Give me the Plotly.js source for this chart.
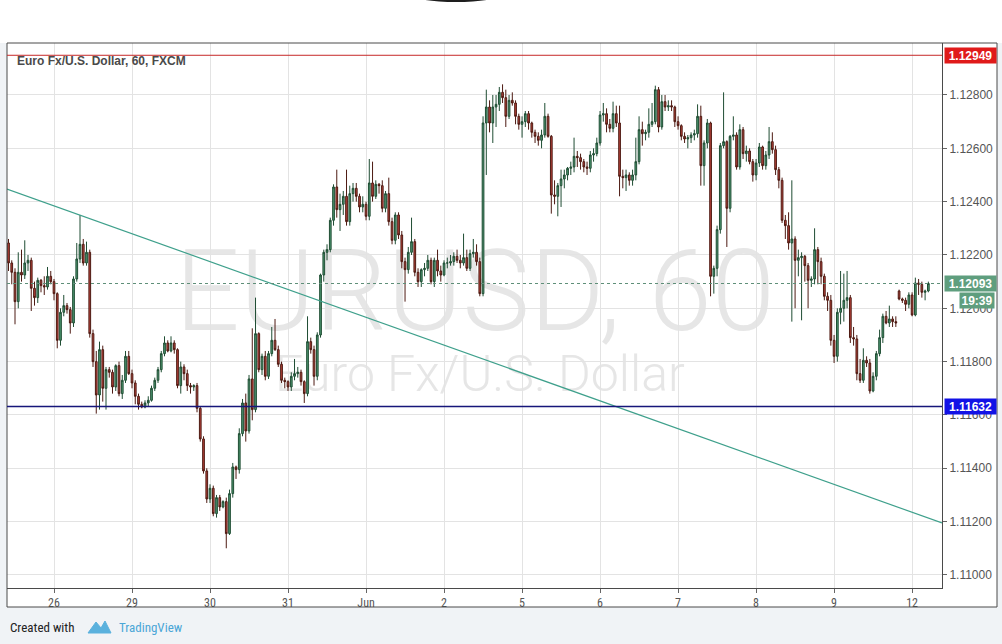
<!DOCTYPE html>
<html><head><meta charset="utf-8">
<script src="https://cdn.plot.ly/plotly-3.0.1.min.js"></script>
<style>html,body{margin:0;padding:0;background:#fff;overflow:hidden}#chart{width:1002px;height:644px}</style>
</head><body><div id="chart"></div>
<script>
// ---- data (EUR/USD, 60 min, FXCM) ----
const dayTicks = [14, 38, 62, 86, 110, 134, 158, 182, 206, 230, 254, 278];
const dayLabels = ['26', '29', '30', '31', 'Jun', '2', '5', '6', '7', '8', '9', '12'];
const priceTicks = [1.110, 1.112, 1.114, 1.116, 1.118, 1.120, 1.122, 1.124, 1.126, 1.128];

const openP = [
1.12245,1.1217,1.12135,1.12025,1.12135,1.12125,1.1217,1.1218,1.12075,1.1204,
1.12105,1.12085,1.1208,1.1212,1.121,1.12055,1.1188,1.11985,1.1201,1.11995,
1.11945,1.1211,1.12185,1.1224,1.1217,1.1221,1.11905,1.118,1.11675,1.11845,
1.117,1.1177,1.1176,1.11705,1.11785,1.1168,1.1173,1.1182,1.11755,1.1172,
1.1167,1.1164,1.1163,1.11645,1.11655,1.117,1.1173,1.1177,1.1183,1.1187,
1.1184,1.1187,1.11845,1.1171,1.1178,1.11755,1.1171,1.11705,1.1171,1.11625,
1.1151,1.1139,1.11285,1.11325,1.1123,1.1129,1.11255,1.11275,1.11155,1.11305,
1.11405,1.11395,1.1153,1.11645,1.1154,1.11735,1.1162,1.11905,1.1177,1.1182,
1.11745,1.1183,1.1188,1.11845,1.1179,1.1173,1.11725,1.11705,1.11745,1.11755,
1.1176,1.11725,1.1168,1.11875,1.11845,1.11745,1.119,1.12125,1.1221,1.1222,
1.1233,1.12455,1.1237,1.1239,1.1242,1.12325,1.1243,1.1245,1.1242,1.1238,
1.1239,1.12345,1.1247,1.1242,1.12465,1.1246,1.12375,1.1243,1.12325,1.12255,
1.1235,1.12275,1.12175,1.12145,1.1221,1.1225,1.12135,1.121,1.12145,1.1215,
1.1218,1.121,1.1218,1.1214,1.12125,1.1217,1.1217,1.12175,1.12195,1.1218,
1.1217,1.1219,1.1215,1.12205,1.1221,1.12175,1.12055,1.12695,1.12755,1.12695,
1.12755,1.12765,1.1281,1.1279,1.1272,1.1278,1.1277,1.1272,1.1269,1.127,
1.1273,1.12695,1.1266,1.12645,1.1263,1.1265,1.1272,1.12645,1.12425,1.1242,
1.1246,1.12485,1.125,1.12525,1.1253,1.1257,1.12565,1.1255,1.1253,1.12525,
1.12575,1.1258,1.1262,1.12725,1.1273,1.1269,1.12675,1.1273,1.12695,1.12495,
1.1249,1.125,1.1248,1.125,1.1255,1.1267,1.12655,1.1266,1.1269,1.127,
1.1282,1.1268,1.12775,1.12755,1.1276,1.12755,1.127,1.12685,1.12645,1.12635,
1.1264,1.1265,1.12655,1.1272,1.12535,1.1262,1.12695,1.1212,1.1215,1.12295,
1.1261,1.12625,1.12375,1.12645,1.1265,1.1253,1.1267,1.1258,1.1259,1.1255,
1.125,1.12545,1.12605,1.12535,1.12575,1.12625,1.12595,1.1252,1.1248,1.1233,
1.1231,1.12245,1.1226,1.1218,1.1219,1.12195,1.1216,1.12105,1.1211,1.1222,
1.12175,1.1212,1.12045,1.1203,1.1188,1.1182,1.11985,1.12,1.1203,1.1204,
1.1189,1.11885,1.11755,1.1173,1.11805,1.11795,1.1169,1.11745,1.1183,1.1189,
1.1197,1.11945,1.1196,1.1195,1.12065,1.12035,1.1203,1.12015,1.1205,1.11975,
1.12095,1.1209,1.1206,1.12065];

const highP = [
1.1226,1.1218,1.1215,1.1221,1.1222,1.12255,1.122,1.1219,1.121,1.12115,
1.1211,1.1212,1.12155,1.1214,1.1211,1.1206,1.12,1.1205,1.1202,1.12005,
1.1212,1.12245,1.1235,1.1226,1.1225,1.1222,1.1192,1.1184,1.11875,1.1186,
1.1178,1.1178,1.1177,1.1179,1.118,1.1175,1.1184,1.1184,1.1177,1.1173,
1.1168,1.1165,1.11655,1.1167,1.1171,1.1174,1.1178,1.1184,1.11895,1.1188,
1.11895,1.1188,1.1185,1.118,1.1179,1.1177,1.1172,1.11715,1.1172,1.1163,
1.1152,1.114,1.1134,1.11335,1.113,1.113,1.1128,1.1129,1.1132,1.1142,
1.1141,1.1155,1.1166,1.1168,1.1175,1.11925,1.1204,1.1191,1.1183,1.1184,
1.1184,1.1193,1.1196,1.1186,1.118,1.1174,1.1173,1.1176,1.1181,1.1178,
1.1177,1.1173,1.1197,1.1189,1.1186,1.1191,1.1213,1.1222,1.1224,1.1234,
1.12465,1.1252,1.1243,1.1244,1.1252,1.1246,1.1247,1.1247,1.1243,1.1242,
1.124,1.1256,1.1255,1.1248,1.1247,1.1248,1.1244,1.1249,1.1234,1.1236,
1.1236,1.1229,1.1219,1.1223,1.1234,1.1226,1.1215,1.1215,1.1217,1.122,
1.1219,1.1219,1.1222,1.1216,1.1218,1.1219,1.122,1.1221,1.1222,1.122,
1.1228,1.1222,1.1222,1.1226,1.1224,1.1219,1.1272,1.1282,1.1278,1.128,
1.128,1.1283,1.1284,1.1282,1.128,1.1281,1.1278,1.1273,1.1272,1.1274,
1.1274,1.127,1.1267,1.1266,1.1267,1.1277,1.1273,1.1265,1.1248,1.1247,
1.1252,1.1252,1.1253,1.1255,1.1264,1.1259,1.1258,1.1256,1.1255,1.1259,
1.126,1.1264,1.1274,1.1277,1.1275,1.1271,1.12775,1.1276,1.1276,1.1252,
1.1252,1.1251,1.1252,1.1264,1.1272,1.127,1.1267,1.1275,1.1277,1.12835,
1.1283,1.128,1.128,1.1278,1.1278,1.1276,1.1272,1.1269,1.1266,1.1265,
1.1266,1.1267,1.12765,1.1276,1.1263,1.1271,1.127,1.1216,1.1231,1.1262,
1.1281,1.1263,1.1265,1.1272,1.1266,1.1269,1.1268,1.1261,1.126,1.1256,
1.1256,1.1262,1.1261,1.1259,1.1268,1.1266,1.1261,1.1253,1.1249,1.1235,
1.1236,1.1248,1.1227,1.1222,1.1221,1.122,1.1217,1.1212,1.123,1.1223,
1.1219,1.1213,1.1206,1.1205,1.119,1.12,1.1214,1.1213,1.1214,1.1205,
1.1193,1.119,1.1181,1.1185,1.1182,1.1181,1.1176,1.1184,1.1192,1.1198,
1.1199,1.1201,1.1197,1.1197,1.1207,1.1204,1.1204,1.1206,1.1206,1.12115,
1.1211,1.121,1.1207,1.121];

const lowP = [
1.1214,1.1209,1.1194,1.12,1.121,1.1211,1.1214,1.1199,1.1201,1.1202,
1.1206,1.1205,1.1207,1.1209,1.1203,1.1185,1.1186,1.1197,1.1198,1.11905,
1.1193,1.121,1.1217,1.1216,1.1216,1.1189,1.1178,1.11605,1.1162,1.1165,
1.1162,1.1174,1.1168,1.1169,1.1167,1.1166,1.1172,1.1175,1.117,1.1164,
1.1162,1.11625,1.11625,1.1163,1.1165,1.1169,1.1172,1.1176,1.1182,1.11835,
1.11835,1.1183,1.117,1.1168,1.1173,1.1169,1.1168,1.1169,1.1161,1.115,
1.1138,1.1127,1.1127,1.1122,1.11215,1.1124,1.1125,1.111,1.1115,1.1129,
1.1136,1.1138,1.1152,1.115,1.1153,1.1158,1.1161,1.1176,1.1175,1.1173,
1.11735,1.1182,1.1184,1.1178,1.1172,1.117,1.1169,1.1169,1.1173,1.1174,
1.1171,1.11645,1.1167,1.1183,1.1171,1.1173,1.1189,1.121,1.1218,1.1221,
1.1231,1.1234,1.1229,1.1235,1.1231,1.1231,1.124,1.124,1.1236,1.1236,
1.1233,1.1233,1.124,1.1241,1.1243,1.1236,1.1236,1.1231,1.1224,1.1224,
1.1226,1.1215,1.12025,1.1213,1.122,1.1212,1.1208,1.1208,1.1212,1.1214,
1.1209,1.1208,1.1212,1.121,1.1212,1.1215,1.1216,1.1216,1.1217,1.1215,
1.1216,1.1214,1.1214,1.1219,1.1216,1.12045,1.12045,1.125,1.1266,1.1262,
1.1268,1.1274,1.1277,1.1268,1.1271,1.1276,1.1269,1.1267,1.1264,1.1268,
1.1267,1.1264,1.1262,1.1261,1.126,1.1264,1.1264,1.12355,1.1239,1.12345,
1.1238,1.1245,1.1248,1.125,1.1251,1.1253,1.1252,1.1251,1.125,1.1251,
1.1255,1.1257,1.1261,1.127,1.1266,1.1266,1.1266,1.1268,1.1242,1.1245,
1.1244,1.1246,1.1246,1.1248,1.1254,1.1261,1.1263,1.1264,1.1268,1.1269,
1.1266,1.1267,1.1274,1.1274,1.1274,1.1268,1.1267,1.1263,1.1262,1.126,
1.1262,1.1263,1.1264,1.1246,1.1246,1.126,1.12045,1.12055,1.1212,1.1228,
1.126,1.1223,1.1236,1.1263,1.1252,1.1252,1.1256,1.1255,1.1254,1.12475,
1.1248,1.1253,1.1252,1.1252,1.1256,1.1258,1.125,1.1245,1.1232,1.1226,
1.1222,1.1195,1.12,1.1212,1.11955,1.121,1.12,1.1208,1.1209,1.1209,
1.1209,1.1203,1.1199,1.1186,1.11795,1.118,1.1194,1.1195,1.12,1.1187,
1.1186,1.1173,1.1172,1.1172,1.1178,1.1168,1.11685,1.1173,1.1182,1.1187,
1.1194,1.1193,1.1193,1.1193,1.1203,1.1202,1.1199,1.12,1.1197,1.1197,
1.1205,1.1204,1.1203,1.1206];

const closeP = [
1.1217,1.12135,1.12025,1.12135,1.12125,1.1217,1.1218,1.12075,1.1204,1.12105,
1.12085,1.1208,1.1212,1.121,1.12055,1.1188,1.11985,1.1201,1.11995,1.11945,
1.1211,1.12185,1.1224,1.1217,1.1221,1.11905,1.118,1.11675,1.11845,1.117,
1.1177,1.1176,1.11705,1.11785,1.1168,1.1173,1.1182,1.11755,1.1172,1.1167,
1.1164,1.1163,1.11645,1.11655,1.117,1.1173,1.1177,1.1183,1.1187,1.1184,
1.1187,1.11845,1.1171,1.1178,1.11755,1.1171,1.11705,1.1171,1.11625,1.1151,
1.1139,1.11285,1.11325,1.1123,1.1129,1.11255,1.11275,1.11155,1.11305,1.11405,
1.11395,1.1153,1.11645,1.1154,1.11735,1.1162,1.11905,1.1177,1.1182,1.11745,
1.1183,1.1188,1.11845,1.1179,1.1173,1.11725,1.11705,1.11745,1.11755,1.1176,
1.11725,1.1168,1.11875,1.11845,1.11745,1.119,1.12125,1.1221,1.1222,1.1233,
1.12455,1.1237,1.1239,1.1242,1.12325,1.1243,1.1245,1.1242,1.1238,1.1239,
1.12345,1.1247,1.1242,1.12465,1.1246,1.12375,1.1243,1.12325,1.12255,1.1235,
1.12275,1.12175,1.12145,1.1221,1.1225,1.12135,1.121,1.12145,1.1215,1.1218,
1.121,1.1218,1.1214,1.12125,1.1217,1.1217,1.12175,1.12195,1.1218,1.1217,
1.1219,1.1215,1.12205,1.1221,1.12175,1.12055,1.12695,1.12755,1.12695,1.12755,
1.12765,1.1281,1.1279,1.1272,1.1278,1.1277,1.1272,1.1269,1.127,1.1273,
1.12695,1.1266,1.12645,1.1263,1.1265,1.1272,1.12645,1.12425,1.1242,1.1246,
1.12485,1.125,1.12525,1.1253,1.1257,1.12565,1.1255,1.1253,1.12525,1.12575,
1.1258,1.1262,1.12725,1.1273,1.1269,1.12675,1.1273,1.12695,1.12495,1.1249,
1.125,1.1248,1.125,1.1255,1.1267,1.12655,1.1266,1.1269,1.127,1.1282,
1.1268,1.12775,1.12755,1.1276,1.12755,1.127,1.12685,1.12645,1.12635,1.1264,
1.1265,1.12655,1.1272,1.12535,1.1262,1.12695,1.1212,1.1215,1.12295,1.1261,
1.12625,1.12375,1.12645,1.1265,1.1253,1.1267,1.1258,1.1259,1.1255,1.125,
1.12545,1.12605,1.12535,1.12575,1.12625,1.12595,1.1252,1.1248,1.1233,1.1231,
1.12245,1.1226,1.1218,1.1219,1.12195,1.1216,1.12105,1.1211,1.1222,1.12175,
1.1212,1.12045,1.1203,1.1188,1.1182,1.11985,1.12,1.1203,1.1204,1.1189,
1.11885,1.11755,1.1173,1.11805,1.11795,1.1169,1.11745,1.1183,1.1189,1.1197,
1.11945,1.1196,1.1195,1.11945,1.12035,1.1203,1.12015,1.1205,1.11975,1.12095,
1.1209,1.1206,1.12065,1.12093];

const resistanceLevel = 1.12949;
const supportLevel = 1.11632;
const lastPrice = 1.12093;
const countdownText = '19:39';
const trendBars = [-0.46, 287.2];
const trendPrices = [1.12447, 1.11195];
const symbolTitle = 'Euro Fx/U.S. Dollar, 60, FXCM';
const watermarkMain = 'EURUSD, 60';
const watermarkSub = 'Euro Fx/U.S. Dollar';

// ---- drawing ----
const barIndex = openP.map((_, i) => i);
const fmt = v => v.toFixed(5);
const narrow = "'Liberation Sans Narrow', 'Roboto Condensed', 'DejaVu Sans Condensed', 'Liberation Sans', sans-serif";
const W = 1002, H = 644, ML = 7, MR = 60, MT = 43, MB = 56;
const pw = W - ML - MR, ph = H - MT - MB;
const px = x => (x - ML) / pw;          // pixel -> paper x
const py = y => (H - MB - y) / ph;      // pixel -> paper y

const traces = [
  {
    type: 'candlestick', x: barIndex, open: openP, high: highP, low: lowP, close: closeP,
    increasing: {line: {color: '#1f4d33', width: 1}, fillcolor: '#4f9872'},
    decreasing: {line: {color: '#4d1a12', width: 1}, fillcolor: '#b8423a'},
    whiskerwidth: 0, hoverinfo: 'skip', showlegend: false
  },
  {
    type: 'scatter', mode: 'lines', x: trendBars, y: trendPrices,
    line: {color: '#3fa08c', width: 1.2}, hoverinfo: 'skip', showlegend: false
  }
];

const shapes = [
  // outer page areas
  {type: 'rect', xref: 'paper', yref: 'paper', x0: px(0), x1: px(W), y0: py(H), y1: py(607), fillcolor: '#f0f3f6', line: {width: 0}, layer: 'below'},
  {type: 'rect', xref: 'paper', yref: 'paper', x0: px(0), x1: px(7), y0: py(607), y1: py(43), fillcolor: '#f0f3f6', line: {width: 0}, layer: 'below'},
  {type: 'rect', xref: 'paper', yref: 'paper', x0: px(997), x1: px(W), y0: py(607), y1: py(43), fillcolor: '#f0f3f6', line: {width: 0}, layer: 'below'},
  // chart frame
  {type: 'rect', xref: 'paper', yref: 'paper', x0: px(7), x1: px(997), y0: py(607), y1: py(43), line: {color: '#4a4a4a', width: 1}, fillcolor: 'rgba(0,0,0,0)', layer: 'above'},
  // watermark
  {type: 'rect', xref: 'paper', yref: 'paper', x0: px(150), x1: px(800), y0: py(330), y1: py(235), line: {width: 0}, fillcolor: 'rgba(0,0,0,0)', layer: 'below',
   label: {text: watermarkMain, font: {size: 114, color: '#e6e6e6', family: 'Roboto', weight: 300}, textposition: 'middle center'}},
  {type: 'rect', xref: 'paper', yref: 'paper', x0: px(200), x1: px(760), y0: py(395), y1: py(345), line: {width: 0}, fillcolor: 'rgba(0,0,0,0)', layer: 'below',
   label: {text: watermarkSub, font: {size: 50, color: '#e6e6e6', family: 'Roboto', weight: 300}, textposition: 'middle center'}},
  // horizontal levels
  {type: 'line', xref: 'paper', yref: 'y', x0: 0, x1: 1, y0: resistanceLevel, y1: resistanceLevel, line: {color: '#c62828', width: 1}},
  {type: 'line', xref: 'paper', yref: 'y', x0: 0, x1: 1, y0: supportLevel, y1: supportLevel, line: {color: '#16167a', width: 1.5}},
  {type: 'line', xref: 'paper', yref: 'y', x0: 0, x1: 1, y0: lastPrice, y1: lastPrice, line: {color: '#5f8f79', width: 1, dash: 'dot'}},
  // top artifact
  {type: 'circle', xref: 'paper', yref: 'paper', x0: px(412), x1: px(500), y0: py(2), y1: py(-12), fillcolor: '#1e1e1e', line: {width: 0}},
  // TradingView logo
  {type: 'path', xref: 'paper', yref: 'paper',
   path: `M ${px(88)} ${py(633)} L ${px(96)} ${py(622)} L ${px(101)} ${py(628)} L ${px(105)} ${py(621)} L ${px(111)} ${py(633)} Z`,
   fillcolor: '#5ab1dd', line: {color: '#5ab1dd', width: 1}}
];

const boxAnn = (val, bg) => ({
  xref: 'paper', yref: 'y', x: px(944), xanchor: 'left', y: val, yanchor: 'middle',
  text: '<b>' + fmt(val) + '</b>', showarrow: false, bgcolor: bg, width: 49, height: 13, borderpad: 1,
  font: {color: '#ffffff', size: 12, family: 'Liberation Sans'}, align: 'center'
});

const annotations = [
  {xref: 'paper', yref: 'paper', x: px(15), y: py(61), xanchor: 'left', yanchor: 'middle', showarrow: false,
   text: symbolTitle, font: {size: 12, color: '#4a4a4a', family: 'Liberation Sans', weight: 'bold'}},
  boxAnn(resistanceLevel, '#e01a1a'),
  boxAnn(supportLevel, '#1212e6'),
  boxAnn(lastPrice, '#5f9e7e'),
  {xref: 'paper', yref: 'y', x: px(995), xanchor: 'right', y: lastPrice, yanchor: 'middle', yshift: -17,
   text: '<b>' + countdownText + '</b>', showarrow: false, bgcolor: '#5f9e7e', width: 32, height: 13, borderpad: 1,
   font: {color: '#ffffff', size: 12, family: 'Liberation Sans'}},
  {xref: 'paper', yref: 'paper', x: px(8), y: py(627), xanchor: 'left', yanchor: 'middle', showarrow: false,
   text: 'Created with', font: {size: 13, color: '#222', family: narrow}},
  {xref: 'paper', yref: 'paper', x: px(117), y: py(627), xanchor: 'left', yanchor: 'middle', showarrow: false,
   text: 'TradingView', font: {size: 13, color: '#4aa6d6', family: narrow}}
];

const layout = {
  width: W, height: H,
  margin: {l: ML, r: MR, t: MT, b: MB, pad: 0},
  paper_bgcolor: '#ffffff', plot_bgcolor: '#ffffff',
  showlegend: false, hovermode: false, dragmode: false,
  boxgap: 0.25,
  xaxis: {
    type: 'linear', range: [-0.46, 287.2], tickmode: 'array', tickvals: dayTicks, ticktext: dayLabels,
    showgrid: true, gridcolor: '#e3e3e3', gridwidth: 1, zeroline: false,
    ticks: 'outside', ticklen: 4, tickcolor: '#666', showline: true, linecolor: '#4a4a4a', linewidth: 1,
    tickfont: {size: 12, color: '#555', family: narrow}, rangeslider: {visible: false}, fixedrange: true
  },
  yaxis: {
    side: 'right', range: [1.10951, 1.12995], tickmode: 'array', tickvals: priceTicks,
    ticktext: priceTicks.map(fmt),
    showgrid: true, gridcolor: '#e3e3e3', gridwidth: 1, zeroline: false,
    ticks: 'outside', ticklen: 4, tickcolor: '#666', showline: true, linecolor: '#4a4a4a', linewidth: 1,
    tickfont: {size: 12, color: '#555', family: 'Liberation Sans'}, fixedrange: true
  },
  shapes: shapes,
  annotations: annotations
};

Plotly.newPlot('chart', traces, layout, {staticPlot: true, displayModeBar: false});
</script>
</body></html>
